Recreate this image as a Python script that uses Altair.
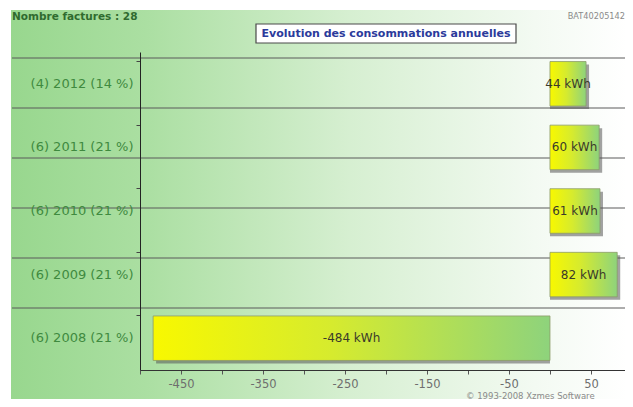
import altair as alt
import pandas as pd

# ---- data ----
years = ["2012", "2011", "2010", "2009", "2008"]
invoice_counts = [4, 6, 6, 6, 6]
percents = [14, 21, 21, 21, 21]
values_kwh = [44, 60, 61, 82, -484]
grid_levels = [1, 2, 3, 4, 5, 6]
x_tick_values = [-500, -450, -400, -350, -300, -250, -200, -150, -100, -50, 0, 50]
reference_id = "BAT40205142"
title_text = "Evolution des consommations annuelles"
copyright_text = "\u00a9 1993-2008 Xzmes Software"

labels = [f"({c}) {y} ({p} %)" for c, y, p in zip(invoice_counts, years, percents)]
df = pd.DataFrame({
    "label": labels,
    "value": values_kwh,
    "mid": [v / 2 for v in values_kwh],
    "text": [f"{v} kWh" for v in values_kwh],
})
grid_df = pd.DataFrame({"g": grid_levels})
one = pd.DataFrame({"a": [0]})

FONT = "DejaVu Sans"
W, H = 485, 318

x_axis = alt.Axis(
    values=x_tick_values,
    labelExpr="(datum.value + 50) % 100 == 0 ? '' + datum.value : ''",
    title=None, grid=False, tickSize=4, tickColor="#555", domainColor="#333",
    labelColor="#6e6e6e", labelFont=FONT, labelFontSize=11.5, labelPadding=4,
    labelFlush=False, zindex=2,
)
x_scale = alt.Scale(domain=[-500, 91.5], nice=False, zero=False)
y_scale = alt.Scale(paddingInner=0.3, paddingOuter=0.15)
y_axis = alt.Axis(
    title=None, bandPosition=0, tickSize=4, tickColor="#444", domainColor="#222",
    labelColor="#3f8a3f", labelFont=FONT, labelFontSize=13, labelPadding=3,
    labelAlign="right", zindex=2,
)

xenc = alt.X("value:Q", scale=x_scale, axis=x_axis)
yenc = alt.Y("label:N", sort=labels, scale=y_scale, axis=y_axis)

# background gradient panel
bg = alt.Chart(one).mark_rect(
    fill=alt.Gradient(
        gradient="linear", x1=0, x2=1, y1=0, y2=0,
        stops=[
            alt.GradientStop(offset=0, color="#98d78e"),
            alt.GradientStop(offset=0.22, color="#abdfa2"),
            alt.GradientStop(offset=0.55, color="#d6efd1"),
            alt.GradientStop(offset=0.85, color="#f3faf2"),
            alt.GradientStop(offset=1, color="#ffffff"),
        ],
    )
).encode(x=alt.value(-129), x2=alt.value(W + 2), y=alt.value(-42), y2=alt.value(H + 40))

grid = alt.Chart(grid_df).mark_rule(color="#5a5a5a", strokeWidth=1).encode(
    x=alt.value(-128), x2=alt.value(W + 2),
    y=alt.Y("g:Q", scale=alt.Scale(domain=[-0.24, 6.12], nice=False, zero=False), axis=None),
)

shadow = alt.Chart(df).mark_bar(color="#555555", opacity=0.55, xOffset=3, yOffset=3).encode(
    x=xenc, x2=alt.datum(0), y=yenc
)

bars = alt.Chart(df).mark_bar(
    stroke="#8d9a6a", strokeWidth=0.8,
    fill=alt.Gradient(
        gradient="linear", x1=0, x2=1, y1=0, y2=0,
        stops=[
            alt.GradientStop(offset=0, color="#f8f800"),
            alt.GradientStop(offset=0.45, color="#d6eb2e"),
            alt.GradientStop(offset=1, color="#8ed37c"),
        ],
    ),
).encode(x=xenc, x2=alt.datum(0), y=yenc)

texts = alt.Chart(df).mark_text(font=FONT, fontSize=12, color="#3a3a2a").encode(
    x=alt.X("mid:Q", scale=x_scale, axis=x_axis), y=yenc, text="text:N"
)

main = alt.layer(shadow, bars, texts)

count_text = alt.Chart(one).mark_text(
    font=FONT, fontSize=10.5, fontWeight="bold", color="#2f6b2f", align="left", baseline="middle"
).encode(x=alt.value(-128), y=alt.value(-35), text=alt.value(f"Nombre factures : {sum(invoice_counts)}"))

id_text = alt.Chart(one).mark_text(
    font=FONT, fontSize=8.2, color="#8a8a8a", align="right", baseline="middle"
).encode(x=alt.value(W), y=alt.value(-35), text=alt.value(reference_id))

title_box = alt.Chart(one).mark_rect(fill="#ffffff", stroke="#4a4a4a", strokeWidth=1.2).encode(
    x=alt.value(116), x2=alt.value(376), y=alt.value(-28), y2=alt.value(-9)
)
title_mark = alt.Chart(one).mark_text(
    font=FONT, fontSize=11, fontWeight="bold", color="#2b3a9b", align="center", baseline="middle"
).encode(x=alt.value(246), y=alt.value(-18), text=alt.value(title_text))

copy_mark = alt.Chart(one).mark_text(
    font=FONT, fontSize=8.5, color="#8a8a8a", align="left", baseline="alphabetic"
).encode(x=alt.value(326), y=alt.value(H + 28.5), text=alt.value(copyright_text))

chart = alt.layer(bg, grid, main, count_text, id_text, title_box, title_mark, copy_mark).resolve_scale(
    y="independent"
).properties(
    width=W, height=H,
    autosize=alt.AutoSizeParams(type="none"),
    padding={"left": 132, "top": 44, "right": 0, "bottom": 29},
).configure_view(stroke=None)

chart.save("out.html", embed_options={"renderer": "svg", "actions": False})
